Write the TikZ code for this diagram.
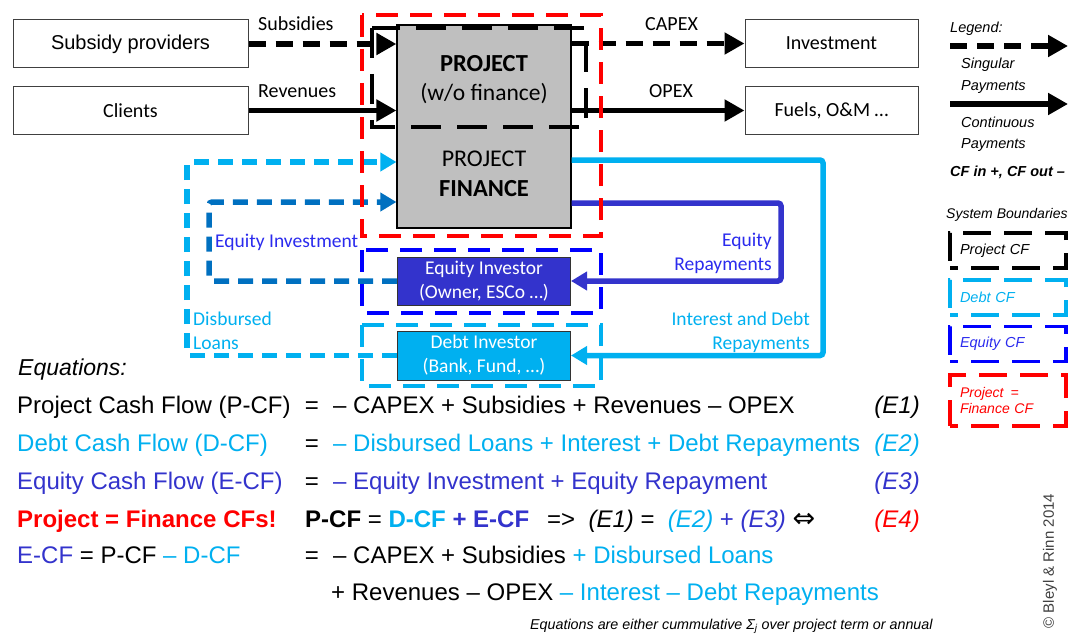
\documentclass[tikz,border=0pt]{standalone}
\usepackage{fontspec}
\setmainfont{Liberation Sans}
\newfontfamily\calibri{Carlito}
\newfontfamily\dejavu{DejaVu Sans}
\usetikzlibrary{arrows.meta}
\definecolor{lb}{HTML}{00B0F0}
\definecolor{db}{HTML}{3333CC}
\definecolor{mb}{HTML}{0070C0}
\definecolor{eb}{HTML}{0000FF}
\definecolor{lbc}{HTML}{2B2BEE}
\definecolor{rd}{HTML}{FF0000}
\definecolor{gr}{HTML}{BFBFBF}
\begin{document}
\begin{tikzpicture}[x=1pt,y=-1pt,
  box/.style={draw=black!75, line width=1pt, minimum width=235pt, minimum height=48pt, inner sep=0pt},
  rbox/.style={draw=black!75, line width=1pt, minimum width=173pt, minimum height=48pt, inner sep=0pt},
  flow/.style={line width=5.5pt, line cap=butt, -{Triangle[length=20pt,width=21pt]}},
  sflow/.style={flow, dash pattern=on 17pt off 10pt},
  cflow/.style={line width=5.5pt, rounded corners=3pt, -{Triangle[length=16pt,width=18pt]}},
  dflow/.style={cflow, dash pattern=on 15pt off 9pt},
  bnd/.style={line width=3.5pt, dash pattern=on 22pt off 12pt},
  lab/.style={font=\calibri\fontsize{19.5}{20}\selectfont, inner sep=0pt},
  arl/.style={font=\calibri\fontsize{20}{20}\selectfont, inner sep=0pt, anchor=base west},
  eqf/.style={font=\fontsize{24}{28}\selectfont, inner sep=0pt},
  leg/.style={font=\itshape\fontsize{14.5}{16}\selectfont, inner sep=0pt, anchor=base west},
  legbox/.style={line width=3.5pt, dash pattern=on 28pt off 13pt, dash phase=20pt, minimum width=116pt, minimum height=35pt, inner xsep=10pt, text width=96pt, align=left, font=\itshape\fontsize{14.5}{16}\selectfont}
]
\useasboundingbox (0,0) rectangle (1074,634);
\fill[white] (0,0) rectangle (1074,634);

% --- main boxes
\node[box, font=\fontsize{20}{22}\selectfont] (sp) at (130.5,44) {Subsidy providers};
\node[box, font=\calibri\fontsize{20}{22}\selectfont] (cl) at (130.5,110.5) {Clients};
\node[draw=black, fill=gr, line width=1.2pt, minimum width=174pt, minimum height=203pt, inner sep=0pt] (proj) at (484,126.5) {};
\node[rbox, font=\calibri\fontsize{20}{22}\selectfont] (inv) at (831.5,43.5) {Investment};
\node[rbox, font=\calibri\fontsize{20}{22}\selectfont] (fuel) at (831.5,110.5) {Fuels, O\&M …};
\node[rbox, fill=db, draw=black!80, text=white, align=center, font=\calibri\fontsize{19.5}{24}\selectfont] (eq) at (484,281) {Equity Investor\\(Owner, ESCo …)};
\node[rbox, fill=lb, draw=black!80, text=white, align=center, minimum height=49pt, font=\calibri\fontsize{19.5}{24}\selectfont] (debt) at (484,355.5) {Debt Investor\\(Bank, Fund, …)};

% --- project box texts
\node[font=\calibri\bfseries\fontsize{24.5}{26}\selectfont, anchor=base, inner sep=0pt] (pt1) at (484,72) {PROJECT};
\node[font=\calibri\fontsize{23.5}{26}\selectfont, anchor=base, inner sep=0pt] (pt2) at (484,100) {(w/o finance)};
\node[font=\calibri\fontsize{24}{26}\selectfont, anchor=base, inner sep=0pt] (pt3) at (484,166) {PROJECT};
\node[font=\calibri\bfseries\fontsize{24.5}{26}\selectfont, anchor=base, inner sep=0pt] (pt4) at (484,196) {FINANCE};

% --- black flows
\draw[sflow] (sp.east) -- (sp.east -| proj.west);
\draw[flow] (cl.east) -- (cl.east -| proj.west);
\draw[sflow] (proj.east |- inv.west) -- (inv.west);
\draw[flow] (proj.east |- fuel.west) -- (fuel.west);
\node[arl] (lsub) at (258,31) {Subsidies};
\node[arl] (lrev) at (258,97) {Revenues};
\node[arl] (lcap) at (645,31) {CAPEX};
\node[arl] (lopx) at (649,97) {OPEX};

% --- finance flows
\coordinate (lbc1) at (823,160);
\draw[cflow, lb] (proj.east |- lbc1) -- (lbc1) |- (debt.east);
\coordinate (dbc1) at (781,203);
\draw[cflow, db] (proj.east |- dbc1) -- (dbc1) |- (eq.east);
\coordinate (dlc1) at (187,162);
\draw[dflow, lb] (debt.west) -| (dlc1) -- (proj.west |- dlc1);
\coordinate (eic1) at (209,202);
\draw[dflow, mb] (eq.west) -| (eic1) -- (proj.west |- eic1);

\node[lab, text=lbc, anchor=base west] (leqi) at (215,247) {Equity Investment};
\node[lab, text=lbc, anchor=base east] (leqr1) at (772,246) {Equity};
\node[lab, text=lbc, anchor=base east] (leqr2) at (772,270) {Repayments};
\node[lab, text=lb, anchor=base west] (ldl1) at (193,325) {Disbursed};
\node[lab, text=lb, anchor=base west] (ldl2) at (193,349) {Loans};
\node[lab, text=lb, anchor=base east] (lid1) at (810,325) {Interest and Debt};
\node[lab, text=lb, anchor=base east] (lid2) at (810,349) {Repayments};

% --- system boundaries
\draw[bnd, rd] (362,15) rectangle (601,236);
\draw[bnd, eb] (362,250) rectangle (601,313);
\draw[bnd, lb] (362,325) rectangle (601,386);
\draw[line width=4pt, black, dash pattern=on 30pt off 16pt] (372,28) rectangle (586,127);

% --- legend
\node[leg] (lg0) at (950,33) {Legend:};
\coordinate (lga1) at (950,46);
\coordinate (lga2) at (1068,46);
\draw[sflow] (lga1) -- (lga2);
\node[leg] (lg1) at (961,69) {Singular};
\node[leg] (lg2) at (961,90) {Payments};
\coordinate (lgb1) at (950,104);
\coordinate (lgb2) at (1068,104);
\draw[flow] (lgb1) -- (lgb2);
\node[leg] (lg3) at (961,127) {Continuous};
\node[leg] (lg4) at (961,148) {Payments};
\node[leg, font=\bfseries\itshape\fontsize{14.5}{16}\selectfont] (lg5) at (950,176) {CF in +, CF out –};
\node[leg, font=\itshape\fontsize{14}{16}\selectfont] (lg6) at (946,218) {System Boundaries};
\node[legbox, draw=black] (lgp) at (1008,250.5) {Project CF};
\node[legbox, draw=lb, text=lb] (lgd) at (1008,297.5) {Debt CF};
\node[legbox, draw=eb, text=lbc] (lge) at (1008,344) {Equity CF};
\node[legbox, draw=rd, text=rd, minimum height=51pt, font=\itshape\fontsize{14}{16}\selectfont] (lgr) at (1008,400.5) {Project \,=\\Finance CF};

% --- equations
\node[inner sep=0pt, anchor=base west, font=\itshape\fontsize{23}{26}\selectfont] (eqh) at (18,375) {Equations:};

\node[eqf, anchor=base west] (r1a) at (17,413) {Project Cash Flow (P-CF)};
\node[eqf, anchor=base] (r1b) at (312,413) {=};
\node[eqf, anchor=base west] (r1c) at (333,413) {– CAPEX + Subsidies + Revenues – OPEX};
\node[eqf, anchor=base east] (r1d) at (920,413) {\itshape (E1)};

\node[eqf, anchor=base west, text=lb] (r2a) at (17,451) {Debt Cash Flow (D-CF)};
\node[eqf, anchor=base] (r2b) at (312,451) {=};
\node[eqf, anchor=base west, text=lb] (r2c) at (333,451) {– Disbursed Loans + Interest + Debt Repayments};
\node[eqf, anchor=base east, text=lb] (r2d) at (920,451) {\itshape (E2)};

\node[eqf, anchor=base west, text=db] (r3a) at (17,489) {Equity Cash Flow (E-CF)};
\node[eqf, anchor=base] (r3b) at (312,489) {=};
\node[eqf, anchor=base west, text=db] (r3c) at (333,489) {– Equity Investment + Equity Repayment};
\node[eqf, anchor=base east, text=db] (r3d) at (920,489) {\itshape (E3)};

\node[eqf, anchor=base west, text=rd, font=\bfseries\fontsize{24}{28}\selectfont] (r4a) at (17,527) {Project = Finance CFs!};
\node[eqf, anchor=base west] (r4b) at (305,527) {\textbf{P-CF} = \textcolor{lb}{\textbf{D-CF}} \textcolor{db}{\textbf{+ E-CF}}};
\node[eqf, anchor=base west] (r4c) at (547,527) {=>\ \ \textit{(E1)} =\ \ \textcolor{lb}{\textit{(E2)}} \textcolor{db}{+ \textit{(E3)}} {\dejavu\fontsize{27}{28}\selectfont ⇔}};
\node[eqf, anchor=base east, text=rd] (r4d) at (920,527) {\itshape (E4)};

\node[eqf, anchor=base west] (r5a) at (17,563) {\textcolor{db}{E-CF} = P-CF \textcolor{lb}{– D-CF}};
\node[eqf, anchor=base] (r5b) at (312,563) {=};
\node[eqf, anchor=base west] (r5c) at (333,563) {– CAPEX + Subsidies \textcolor{lb}{+ Disbursed Loans}};
\node[eqf, anchor=base west] (r6c) at (331,600) {+ Revenues – OPEX \textcolor{lb}{– Interest – Debt Repayments}};

\node[inner sep=0pt, anchor=base west, font=\itshape\fontsize{14.3}{16}\selectfont] (foot) at (530,629) {Equations are either cummulative Σ\textsubscript{j} over project term or annual};
\node[inner sep=0pt, rotate=90, text=black!75, font=\fontsize{15}{17}\selectfont] (copy) at (1050,561) {© Bleyl \& Rinn 2014};
\end{tikzpicture}
\end{document}
